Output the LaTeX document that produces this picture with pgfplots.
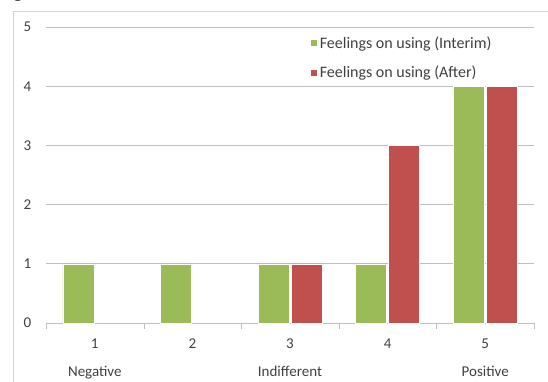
\documentclass[border=0pt]{standalone}
\usepackage{pgfplots}
\pgfplotsset{compat=1.18}
\usetikzlibrary{calc}
\usepackage{fontspec}
\setmainfont{Carlito}
\definecolor{cgreen}{HTML}{9BBB59}
\definecolor{cred}{HTML}{C0504D}
\definecolor{cgrid}{HTML}{BFBFBF}
\definecolor{ctext}{HTML}{404040}
\begin{document}
\begin{tikzpicture}[x=1pt,y=1pt]
\begin{axis}[name=ax,
  scale only axis, width=488pt, height=296pt,
  ybar=2pt, bar width=31pt,
  xmin=0.5, xmax=5.5, ymin=0, ymax=5,
  xtick={1,2,3,4,5},
  xticklabels={{1\\[10pt]Negative},{2},{3\\[10pt]Indifferent},{4},{5\\[10pt]Positive}},
  xticklabel style={align=center, yshift=-8pt},
  minor xtick={0.5,1.5,2.5,3.5,4.5,5.5},
  major x tick style={draw=none},
  minor tick length=6pt,
  tick align=outside,
  minor x tick style={cgrid},
  ytick={0,1,2,3,4,5},
  major y tick style={draw=none},
  yticklabel style={xshift=-7pt},
  axis x line*=bottom, axis y line*=left,
  x axis line style={cgrid, -},
  y axis line style={draw=none},
  ymajorgrids, grid style={cgrid, line width=0.8pt},
  xtick pos=bottom, ytick pos=left,
  tick label style={font=\fontsize{15}{18}\selectfont, text=ctext},
  /pgf/number format/assume math mode=true,
  legend style={at={(rel axis cs:0.535,0.982)}, anchor=north west, draw=none, fill=none,
    font=\fontsize{16}{19}\selectfont, text=ctext, row sep=12.5pt,
    /tikz/every even column/.append style={column sep=8pt}},
  legend cell align=left,
  legend image code/.code={\fill[#1] (0pt,-3.5pt) rectangle (7pt,3.5pt);},
  clip=false,
]
\addplot[fill=cgreen, draw=white, line width=0.5pt] coordinates {(1,1) (2,1) (3,1) (4,1) (5,4)};
\addplot[fill=cred, draw=white, line width=0.5pt] coordinates {(3,1) (4,3) (5,4)};
\legend{Feelings on using (Interim), Feelings on using (After)}
\end{axis}
\draw[cgrid!70] ($(ax.south west)+(-33,312)$) rectangle ($(ax.south west)+(600,-100)$);
\node[anchor=base, font=\bfseries\fontsize{22}{22}\selectfont, inner sep=0pt] at ($(ax.south west)+(-28,325)$) {g};
\pgfresetboundingbox
\path[use as bounding box] ($(ax.south west)+(-46,-58)$) rectangle ($(ax.south west)+(502,323)$);
\end{tikzpicture}
\end{document}
